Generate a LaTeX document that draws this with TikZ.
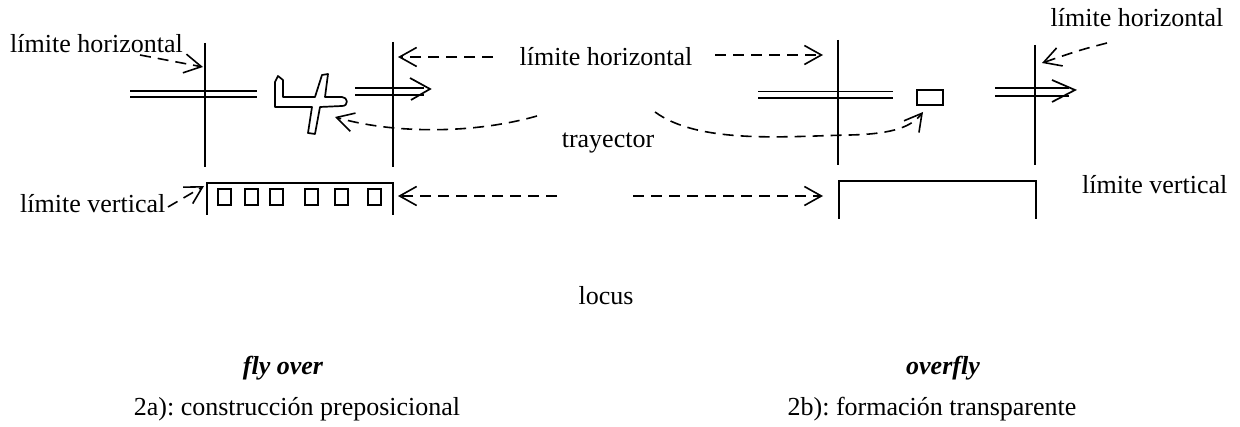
\documentclass[tikz,border=0pt]{standalone}
\usepackage{fontspec}
\setmainfont{Liberation Serif}
\usetikzlibrary{arrows.meta}
\frenchspacing
\begin{document}
\begin{tikzpicture}[x=1pt,y=-1pt,
  ln/.style={line width=1.7pt},
  dasharr/.style={line width=1.6pt, dash pattern=on 11pt off 7pt,
    -{Straight Barb[length=17pt,width=19pt,line width=1.6pt]}},
  lbl/.style={inner sep=0pt, font=\fontsize{26}{30}\selectfont},
  itlbl/.style={inner sep=0pt, font=\fontsize{26}{30}\selectfont\bfseries\itshape}]
\useasboundingbox (0,0) rectangle (1240,427);

% ---------- labels ----------
\node[lbl, anchor=base west] (hlimL) at (10,53) {límite horizontal};
\node[lbl, anchor=base] (hlimM) at (606,66) {límite horizontal};
\node[lbl, anchor=base] (hlimR) at (1137,27) {límite horizontal};
\node[lbl, anchor=base] (tray) at (608,148) {trayector};
\node[lbl, anchor=base west] (vlimL) at (20,213) {límite vertical};
\node[lbl, anchor=base west] (vlimR) at (1082,194) {límite vertical};
\node[lbl, anchor=base] (locus) at (606,305) {locus};
\node[itlbl, anchor=base] (flyover) at (283,375) {fly over};
\node[lbl, anchor=base] (capA) at (297,416) {2a): construcción preposicional};
\node[itlbl, anchor=base] (overfly) at (943,375) {overfly};
\node[lbl, anchor=base] (capB) at (932,416) {2b): formación transparente};

% ---------- left panel ----------
\draw[ln] (205,43) -- (205,167);
\draw[ln] (393,42) -- (393,167);
\draw[ln] (130,91) -- (257,91);
\draw[ln] (130,97) -- (257,97);
% aeroplane
\draw[ln, line join=round] (275,107) -- (275,82) -- (278,76) -- (283,80) -- (283,97)
  -- (315,97) -- (322,75) -- (328,74) -- (325,97) -- (342,97)
  .. controls (348,97) and (349,106) .. (342,106) -- (320,107)
  -- (315,134) -- (308,133) -- (312,107) -- cycle;
% motion arrow
\draw[ln] (355,88) -- (424,88);
\draw[ln] (355,95) -- (424,95);
\draw[ln, line join=miter] (410,78) -- (430,89) -- (411,100);
% locus box with objects
\draw[ln] (207,215) -- (207,183) -- (393,183) -- (393,215);
\foreach \x in {218,245,270,305,335,368}
  \draw[line width=1.5pt] (\x,189) rectangle ++(13,16);

% ---------- right panel ----------
\draw[ln] (838,40) -- (838,165);
\draw[ln] (1035,45) -- (1035,165);
\draw[ln] (758,91.5) -- (893,91.5);
\draw[ln] (758,98) -- (893,98);
\node[draw, line width=1.5pt, minimum width=26pt, minimum height=15pt, inner sep=0pt]
  (obj) at (930,97.5) {};
\draw[ln] (995,88) -- (1069,88);
\draw[ln] (995,96) -- (1069,96);
\draw[ln, line join=miter] (1052,80) -- (1075,90) -- (1052,102);
\draw[ln] (839,219) -- (839,181) -- (1036,181) -- (1036,219);

% ---------- pointer arrows ----------
\coordinate (pL1) at (140,55);   \coordinate (tL1) at (203,67);
\coordinate (pM1) at (493,57);   \coordinate (tM1) at (398,57);
\coordinate (pM2) at (715,55);   \coordinate (tM2) at (823,55);
\coordinate (pR1) at (1107,43);  \coordinate (tR1) at (1042,63);
\coordinate (pV1) at (168,207);  \coordinate (tV1) at (204,186);
\coordinate (pB1) at (557,196);  \coordinate (tB1) at (398,196);
\coordinate (pB2) at (633,196);  \coordinate (tB2) at (823,196);
\coordinate (pT1) at (537,116);  \coordinate (tT1) at (335,117);
\coordinate (pT2) at (655,112);  \coordinate (tT2) at (923,112);

\draw[dasharr] (pL1) -- (tL1);
\draw[dasharr] (pM1) -- (tM1);
\draw[dasharr] (pM2) -- (tM2);
\draw[dasharr] (pR1) .. controls (1080,50) .. (tR1);
\draw[dasharr] (pV1) -- (tV1);
\draw[dasharr] (pB1) -- (tB1);
\draw[dasharr] (pB2) -- (tB2);
\draw[dasharr] (pT1) .. controls (470,135) and (390,133) .. (tT1);
\draw[dasharr] (pT2) .. controls (700,145) and (790,136) .. (850,135)
  .. controls (895,134) and (912,126) .. (tT2);
\end{tikzpicture}
\end{document}
